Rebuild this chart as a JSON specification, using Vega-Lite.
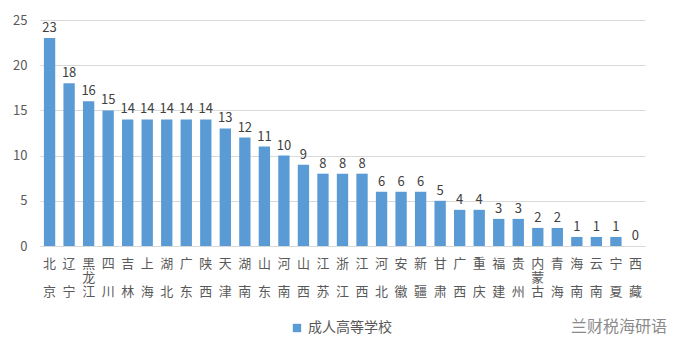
{
  "$schema": "https://vega.github.io/schema/vega-lite/v6.json",
  "width": 605,
  "height": 226,
  "autosize": {"type": "none"},
  "padding": {"left": 40, "top": 20, "right": 43, "bottom": 109},
  "background": "white",
  "config": {
    "view": {"stroke": null},
    "font": "Noto Sans CJK SC",
    "axis": {"labelFont": "Noto Sans CJK SC", "labelColor": "#595959", "labelFontSize": 13}
  },
  "title": {
    "text": "兰财税海研语",
    "orient": "bottom",
    "anchor": "end",
    "fontSize": 16,
    "fontWeight": "normal",
    "color": "#8a8a8a",
    "font": "Noto Sans CJK SC",
    "offset": 0,
    "dy": -16,
    "dx": 22
  },
  "data": {
    "values": [
      {"province": "北京", "value": 23, "type": "成人高等学校"},
      {"province": "辽宁", "value": 18, "type": "成人高等学校"},
      {"province": "黑龙江", "value": 16, "type": "成人高等学校"},
      {"province": "四川", "value": 15, "type": "成人高等学校"},
      {"province": "吉林", "value": 14, "type": "成人高等学校"},
      {"province": "上海", "value": 14, "type": "成人高等学校"},
      {"province": "湖北", "value": 14, "type": "成人高等学校"},
      {"province": "广东", "value": 14, "type": "成人高等学校"},
      {"province": "陕西", "value": 14, "type": "成人高等学校"},
      {"province": "天津", "value": 13, "type": "成人高等学校"},
      {"province": "湖南", "value": 12, "type": "成人高等学校"},
      {"province": "山东", "value": 11, "type": "成人高等学校"},
      {"province": "河南", "value": 10, "type": "成人高等学校"},
      {"province": "山西", "value": 9, "type": "成人高等学校"},
      {"province": "江苏", "value": 8, "type": "成人高等学校"},
      {"province": "浙江", "value": 8, "type": "成人高等学校"},
      {"province": "江西", "value": 8, "type": "成人高等学校"},
      {"province": "河北", "value": 6, "type": "成人高等学校"},
      {"province": "安徽", "value": 6, "type": "成人高等学校"},
      {"province": "新疆", "value": 6, "type": "成人高等学校"},
      {"province": "甘肃", "value": 5, "type": "成人高等学校"},
      {"province": "广西", "value": 4, "type": "成人高等学校"},
      {"province": "重庆", "value": 4, "type": "成人高等学校"},
      {"province": "福建", "value": 3, "type": "成人高等学校"},
      {"province": "贵州", "value": 3, "type": "成人高等学校"},
      {"province": "内蒙古", "value": 2, "type": "成人高等学校"},
      {"province": "青海", "value": 2, "type": "成人高等学校"},
      {"province": "海南", "value": 1, "type": "成人高等学校"},
      {"province": "云南", "value": 1, "type": "成人高等学校"},
      {"province": "宁夏", "value": 1, "type": "成人高等学校"},
      {"province": "西藏", "value": 0, "type": "成人高等学校"}
    ]
  },
  "encoding": {
    "x": {
      "field": "province",
      "type": "nominal",
      "sort": null,
      "scale": {"paddingInner": 0.42, "paddingOuter": 0.2},
      "axis": {
        "title": null,
        "labelAngle": 0,
        "labelExpr": "length(datum.label) == 2 ? [slice(datum.label, 0, 1), '\u2800', slice(datum.label, 1, 2)] : split(datum.label, '')",
        "labelLineHeight": 14,
        "labelPadding": 11,
        "ticks": false,
        "domainColor": "#d9d9d9",
        "labelBaseline": "top"
      }
    },
    "y": {
      "field": "value",
      "type": "quantitative",
      "scale": {"domain": [0, 25]},
      "axis": {
        "title": null,
        "values": [0, 5, 10, 15, 20, 25],
        "domain": false,
        "ticks": false,
        "gridColor": "#d9d9d9",
        "labelPadding": 13
      }
    }
  },
  "layer": [
    {
      "mark": {"type": "bar", "color": "#5b9bd5"},
      "encoding": {
        "color": {
          "field": "type",
          "type": "nominal",
          "scale": {"range": ["#5b9bd5"]},
          "legend": {
            "title": null,
            "orient": "none",
            "legendX": 250,
            "legendY": 301,
            "symbolType": "square",
            "symbolSize": 70,
            "labelFontSize": 14,
            "labelColor": "#595959",
            "labelFont": "Noto Sans CJK SC"
          }
        }
      }
    },
    {
      "mark": {"type": "text", "dy": -10, "fontSize": 13, "color": "#404040", "font": "Noto Sans CJK SC"},
      "encoding": {"text": {"field": "value", "type": "quantitative"}}
    }
  ]
}
